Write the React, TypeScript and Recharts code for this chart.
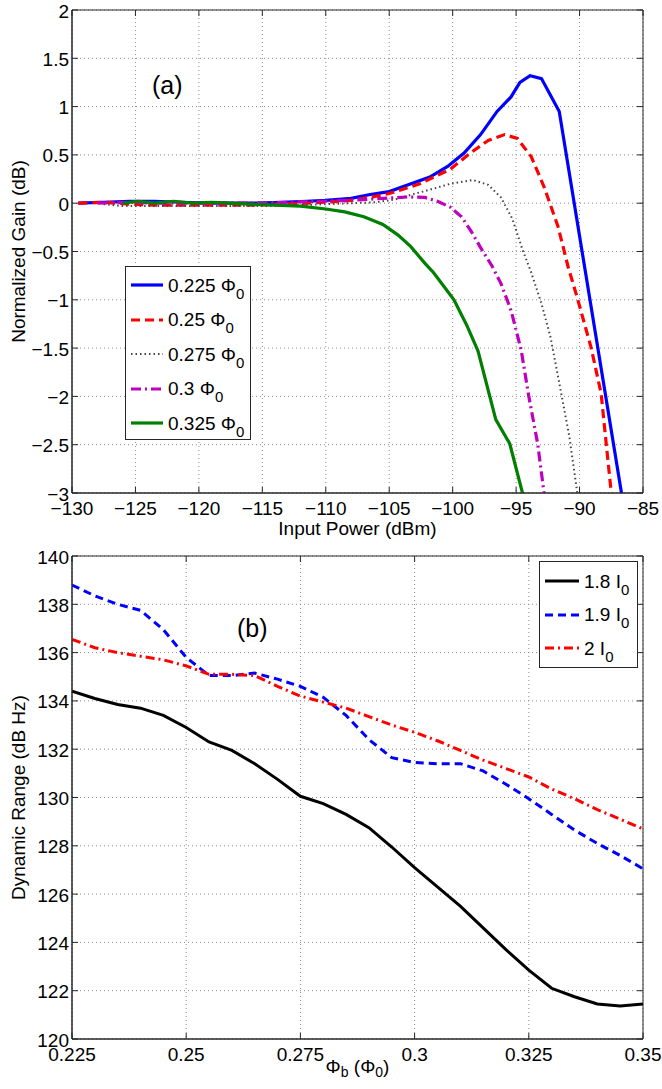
import {
  CartesianGrid,
  Legend,
  Line,
  LineChart,
  ReferenceArea,
  XAxis,
  YAxis,
} from 'recharts'

type Pt = { p: number; g: number }

// (a) input power (dBm) -> normalized gain (dB), one list per flux bias
const gain0225: Pt[] = [
  { p: -129.5, g: 0 }, { p: -127.5, g: 0.01 }, { p: -125.5, g: 0.02 }, { p: -123.5, g: 0.02 },
  { p: -121.5, g: 0.01 }, { p: -119.5, g: 0 }, { p: -117.5, g: 0 }, { p: -115.5, g: 0 },
  { p: -113.5, g: 0.01 }, { p: -111.5, g: 0.02 }, { p: -110, g: 0.03 }, { p: -108, g: 0.05 },
  { p: -106.5, g: 0.09 }, { p: -105, g: 0.12 }, { p: -103.5, g: 0.19 }, { p: -101.8, g: 0.27 },
  { p: -100.4, g: 0.38 }, { p: -99.1, g: 0.52 }, { p: -97.8, g: 0.71 }, { p: -96.5, g: 0.95 },
  { p: -95.4, g: 1.1 }, { p: -94.7, g: 1.25 }, { p: -93.9, g: 1.32 }, { p: -93.0, g: 1.29 },
  { p: -91.6, g: 0.95 }, { p: -86.0, g: -3.56 },
]

const gain025: Pt[] = [
  { p: -129.5, g: 0 }, { p: -127.5, g: 0.01 }, { p: -125.5, g: -0.01 }, { p: -123.5, g: -0.02 },
  { p: -121.5, g: -0.02 }, { p: -119.5, g: -0.02 }, { p: -117.5, g: -0.02 }, { p: -115.5, g: -0.02 },
  { p: -113.5, g: -0.01 }, { p: -111.5, g: 0 }, { p: -110, g: 0.01 }, { p: -108, g: 0.03 },
  { p: -106.5, g: 0.06 }, { p: -105, g: 0.1 }, { p: -103.8, g: 0.15 }, { p: -102.6, g: 0.2 },
  { p: -101.5, g: 0.27 }, { p: -100.2, g: 0.35 }, { p: -98.6, g: 0.52 }, { p: -97.2, g: 0.65 },
  { p: -95.9, g: 0.71 }, { p: -94.9, g: 0.67 }, { p: -93.8, g: 0.48 }, { p: -92.8, g: 0.17 },
  { p: -91.7, g: -0.24 }, { p: -90.9, g: -0.66 }, { p: -90.2, g: -0.97 }, { p: -89.1, g: -1.49 },
  { p: -88.3, g: -1.97 }, { p: -87.9, g: -2.49 }, { p: -87.2, g: -3.38 },
]

const gain0275: Pt[] = [
  { p: -127.5, g: -0.01 }, { p: -126, g: -0.03 }, { p: -124, g: -0.03 }, { p: -122, g: -0.03 },
  { p: -120, g: -0.03 }, { p: -118, g: -0.03 }, { p: -116, g: -0.03 }, { p: -114, g: -0.03 },
  { p: -112, g: -0.02 }, { p: -110, g: -0.01 }, { p: -108, g: 0 }, { p: -106, g: 0.01 },
  { p: -104.5, g: 0.04 }, { p: -103.2, g: 0.09 }, { p: -101.8, g: 0.14 }, { p: -100.2, g: 0.2 },
  { p: -98.4, g: 0.24 }, { p: -97.2, g: 0.19 }, { p: -96.2, g: 0.06 }, { p: -95.3, g: -0.16 },
  { p: -94.5, g: -0.48 }, { p: -93.8, g: -0.72 }, { p: -93.0, g: -1.04 }, { p: -92.3, g: -1.38 },
  { p: -91.5, g: -1.93 }, { p: -90.8, g: -2.42 }, { p: -90.2, g: -2.98 }, { p: -89.9, g: -3.3 },
]

const gain03: Pt[] = [
  { p: -128, g: 0 }, { p: -125.5, g: 0.01 }, { p: -123, g: 0 }, { p: -120.5, g: 0 },
  { p: -118, g: 0 }, { p: -115.5, g: 0 }, { p: -113, g: 0.01 }, { p: -110.5, g: 0.02 },
  { p: -108, g: 0.03 }, { p: -105.5, g: 0.05 }, { p: -103.5, g: 0.065 }, { p: -102.2, g: 0.06 },
  { p: -101.2, g: 0.02 }, { p: -100.2, g: -0.04 }, { p: -99.3, g: -0.14 }, { p: -98.5, g: -0.3 },
  { p: -97.8, g: -0.46 }, { p: -96.9, g: -0.65 }, { p: -96.2, g: -0.83 }, { p: -95.4, g: -1.11 },
  { p: -94.6, g: -1.52 }, { p: -94.0, g: -2.0 }, { p: -93.3, g: -2.49 }, { p: -92.8, g: -3.0 },
  { p: -92.5, g: -3.3 },
]

const gain0325: Pt[] = [
  { p: -126, g: 0 }, { p: -124.8, g: 0.02 }, { p: -123.5, g: 0 }, { p: -122, g: 0.02 },
  { p: -120.5, g: 0 }, { p: -119, g: 0.01 }, { p: -117.5, g: 0 }, { p: -116, g: -0.01 },
  { p: -114, g: -0.02 }, { p: -112, g: -0.03 }, { p: -110, g: -0.06 }, { p: -108.5, g: -0.09 },
  { p: -107, g: -0.14 }, { p: -105.5, g: -0.22 }, { p: -104.3, g: -0.33 }, { p: -103.3, g: -0.45 },
  { p: -102.2, g: -0.62 }, { p: -101.5, g: -0.72 }, { p: -100.7, g: -0.86 }, { p: -99.9, g: -1.0 },
  { p: -98.9, g: -1.26 }, { p: -98.0, g: -1.53 }, { p: -96.6, g: -2.24 }, { p: -95.5, g: -2.49 },
  { p: -94.3, g: -3.1 },
]

const powerTicks = [-130, -125, -120, -115, -110, -105, -100, -95, -90, -85]
const gainTicks = [-3, -2.5, -2, -1.5, -1, -0.5, 0, 0.5, 1, 1.5, 2]

// (b) flux bias (Phi0) -> dynamic range (dB Hz)
const fluxBias = [
  0.225, 0.23, 0.235, 0.24, 0.245, 0.25, 0.255, 0.26, 0.265, 0.27, 0.275, 0.28, 0.285,
  0.29, 0.295, 0.3, 0.305, 0.31, 0.315, 0.32, 0.325, 0.33, 0.335, 0.34, 0.345, 0.35,
]
const range18 = [
  134.4, 134.1, 133.85, 133.7, 133.4, 132.9, 132.3, 131.95, 131.4, 130.75, 130.05, 129.75, 129.3,
  128.75, 127.95, 127.1, 126.3, 125.5, 124.6, 123.7, 122.85, 122.1, 121.75, 121.45, 121.37, 121.45,
]
const range19 = [
  138.8, 138.35, 138.0, 137.75, 136.95, 135.8, 135.05, 135.05, 135.15, 134.9, 134.6, 134.15, 133.4,
  132.4, 131.65, 131.45, 131.4, 131.4, 131.1, 130.55, 129.95, 129.3, 128.65, 128.1, 127.6, 127.05,
]
const range20 = [
  136.55, 136.2, 136.0, 135.85, 135.7, 135.45, 135.1, 135.1, 135.05, 134.6, 134.2, 133.95, 133.7,
  133.35, 133.0, 132.7, 132.35, 131.95, 131.55, 131.2, 130.85, 130.35, 129.95, 129.5, 129.1, 128.7,
]
const fluxTicks = [0.225, 0.25, 0.275, 0.3, 0.325, 0.35]
const rangeTicks = [120, 122, 124, 126, 128, 130, 132, 134, 136, 138, 140]

const rangeRows = fluxBias.map((f, i) => ({
  f,
  r18: range18[i],
  r19: range19[i],
  r20: range20[i],
}))

const FONT = '"Liberation Sans", Arial, Helvetica, sans-serif'
const AXIS = '#262626'
const PLOT_W = 571
const PLOT_H = 483

const gainSeries = [
  { name: '0.225', data: gain0225, color: '#0000ff', dash: undefined, width: 3.2 },
  { name: '0.25', data: gain025, color: '#ff0000', dash: '9 5', width: 3.2 },
  { name: '0.275', data: gain0275, color: '#444444', dash: '1.5 3', width: 2 },
  { name: '0.3', data: gain03, color: '#bf00bf', dash: '10 4 2 4', width: 3.2 },
  { name: '0.325', data: gain0325, color: '#007f00', dash: undefined, width: 3.2 },
]

const rangeSeries = [
  { name: '1.8', key: 'r18', color: '#000000', dash: undefined, width: 3 },
  { name: '1.9', key: 'r19', color: '#0000ff', dash: '8 5', width: 3 },
  { name: '2', key: 'r20', color: '#ff0000', dash: '9 4 2 4', width: 3 },
]

const fmt = (v: number) => String(v).replace('-', '\u2212')

function makeXTick(plotH: number) {
  return (props: any) => {
    const { x, y, payload } = props
    return (
      <g>
        <line x1={x} x2={x} y1={y} y2={y - 6} stroke={AXIS} />
        <line x1={x} x2={x} y1={y - plotH} y2={y - plotH + 6} stroke={AXIS} />
        <text x={x} y={y + 15} textAnchor="middle" dominantBaseline="central"
          fontSize={19} fontFamily={FONT} fill="#000">
          {fmt(payload.value)}
        </text>
      </g>
    )
  }
}

function makeYTick(plotW: number) {
  return (props: any) => {
    const { x, y, payload } = props
    return (
      <g>
        <line x1={x} x2={x + 6} y1={y} y2={y} stroke={AXIS} />
        <line x1={x + plotW} x2={x + plotW - 6} y1={y} y2={y} stroke={AXIS} />
        <text x={x - 3} y={y + 1} textAnchor="end" dominantBaseline="central"
          fontSize={19} fontFamily={FONT} fill="#000">
          {fmt(payload.value)}
        </text>
      </g>
    )
  }
}

function yTitle(text: string) {
  return ({ viewBox }: any) => {
    const cx = viewBox.x + 18.5
    const cy = viewBox.y + viewBox.height / 2
    return (
      <text x={cx} y={cy} transform={`rotate(-90 ${cx} ${cy})`} textAnchor="middle"
        dominantBaseline="central" fontSize={19} fontFamily={FONT} fill="#000">
        {text}
      </text>
    )
  }
}

function LegendBox({ items, unit, rowH, padTop, sampleW }: {
  items: { name: string; color: string; dash?: string; width: number }[]
  unit: string
  rowH: number
  padTop: number
  sampleW: number
}) {
  return (
    <div style={{
      boxSizing: 'border-box', width: '100%', height: '100%', border: `1px solid ${AXIS}`,
      background: '#fff', paddingTop: padTop, fontFamily: FONT, color: '#000',
    }}>
      {items.map((it) => (
        <div key={it.name} style={{ height: rowH, display: 'flex', alignItems: 'center' }}>
          <svg width={sampleW + 5} height={10} style={{ flex: 'none' }}>
            <line x1={5} x2={sampleW} y1={5} y2={5} stroke={it.color}
              strokeWidth={it.width} strokeDasharray={it.dash} />
          </svg>
          <span style={{ fontSize: 19, whiteSpace: 'nowrap', lineHeight: 1 }}>
            {it.name} {unit}
            <span style={{ fontSize: 15, position: 'relative', top: 7 }}>0</span>
          </span>
        </div>
      ))}
    </div>
  )
}

export default function App() {
  return (
    <div style={{ position: 'absolute', left: 0, top: 0, width: 662, height: 1089, background: '#fff' }}>
      <div style={{ position: 'relative', width: 662, height: 545 }}>
        <LineChart width={662} height={545} margin={{ top: 10, right: 19, bottom: 0, left: 0 }}>
          <CartesianGrid stroke="#8c8c8c" strokeDasharray="1 3" />
          <XAxis dataKey="p" type="number" domain={[-130, -85]} ticks={powerTicks}
            allowDataOverflow interval={0} height={52} tickSize={0} tickMargin={0}
            axisLine={{ stroke: AXIS }} tick={makeXTick(PLOT_H)}
            label={({ viewBox }: any) => (
              <text x={viewBox.x + viewBox.width / 2} y={viewBox.y + 35.5} textAnchor="middle"
                dominantBaseline="central" fontSize={19} fontFamily={FONT} fill="#000">
                Input Power (dBm)
              </text>
            )} />
          <YAxis type="number" domain={[-3, 2]} ticks={gainTicks} allowDataOverflow interval={0}
            width={72} tickSize={0} tickMargin={0} axisLine={{ stroke: AXIS }}
            tick={makeYTick(PLOT_W)} label={yTitle('Normalized Gain (dB)')} />
          <ReferenceArea x1={-130} x2={-85} y1={-3} y2={2} fill="none" stroke={AXIS}
            ifOverflow="visible" />
          {gainSeries.map((s) => (
            <Line key={s.name} data={s.data} dataKey="g" type="linear" stroke={s.color}
              strokeWidth={s.width} strokeDasharray={s.dash} dot={false}
              isAnimationActive={false} />
          ))}
          <Legend layout="vertical" align="center" verticalAlign="middle"
            wrapperStyle={{ left: 125, top: 266, width: 126, height: 174 }}
            content={() => (
              <LegendBox items={gainSeries} unit={'\u03a6'} rowH={34.5} padTop={0.75} sampleW={37} />
            )} />
        </LineChart>
        <div style={{ position: 'absolute', left: 152, top: 71, fontSize: 25, lineHeight: '28px', fontFamily: FONT }}>
          (a)
        </div>
      </div>
      <div style={{ position: 'relative', width: 662, height: 544 }}>
        <LineChart width={662} height={544} data={rangeRows}
          margin={{ top: 11, right: 19, bottom: 0, left: 0 }}>
          <CartesianGrid stroke="#8c8c8c" strokeDasharray="1 3" />
          <XAxis dataKey="f" type="number" domain={[0.225, 0.35]} ticks={fluxTicks}
            allowDataOverflow interval={0} height={50} tickSize={0} tickMargin={0}
            axisLine={{ stroke: AXIS }} tick={makeXTick(PLOT_H)}
            label={({ viewBox }: any) => (
              <text x={viewBox.x + viewBox.width / 2} y={viewBox.y + 27} textAnchor="middle"
                dominantBaseline="central" fontSize={19} fontFamily={FONT} fill="#000">
                <tspan>{'\u03a6'}</tspan>
                <tspan fontSize={14} dy={6}>b</tspan>
                <tspan dy={-6}>{' (\u03a6'}</tspan>
                <tspan fontSize={14} dy={6}>0</tspan>
                <tspan dy={-6}>)</tspan>
              </text>
            )} />
          <YAxis type="number" domain={[120, 140]} ticks={rangeTicks} allowDataOverflow interval={0}
            width={72} tickSize={0} tickMargin={0} axisLine={{ stroke: AXIS }}
            tick={makeYTick(PLOT_W)} label={yTitle('Dynamic Range (dB Hz)')} />
          <ReferenceArea x1={0.225} x2={0.35} y1={120} y2={140} fill="none" stroke={AXIS}
            ifOverflow="visible" />
          {rangeSeries.map((s) => (
            <Line key={s.key} dataKey={s.key} type="linear" stroke={s.color}
              strokeWidth={s.width} strokeDasharray={s.dash} dot={false}
              isAnimationActive={false} />
          ))}
          <Legend layout="vertical" align="center" verticalAlign="middle"
            wrapperStyle={{ left: 539, top: 16, width: 99, height: 107 }}
            content={() => (
              <LegendBox items={rangeSeries} unit="I" rowH={33.5} padTop={2.25} sampleW={39} />
            )} />
        </LineChart>
        <div style={{ position: 'absolute', left: 237, top: 69, fontSize: 25, lineHeight: '28px', fontFamily: FONT }}>
          (b)
        </div>
      </div>
    </div>
  )
}
